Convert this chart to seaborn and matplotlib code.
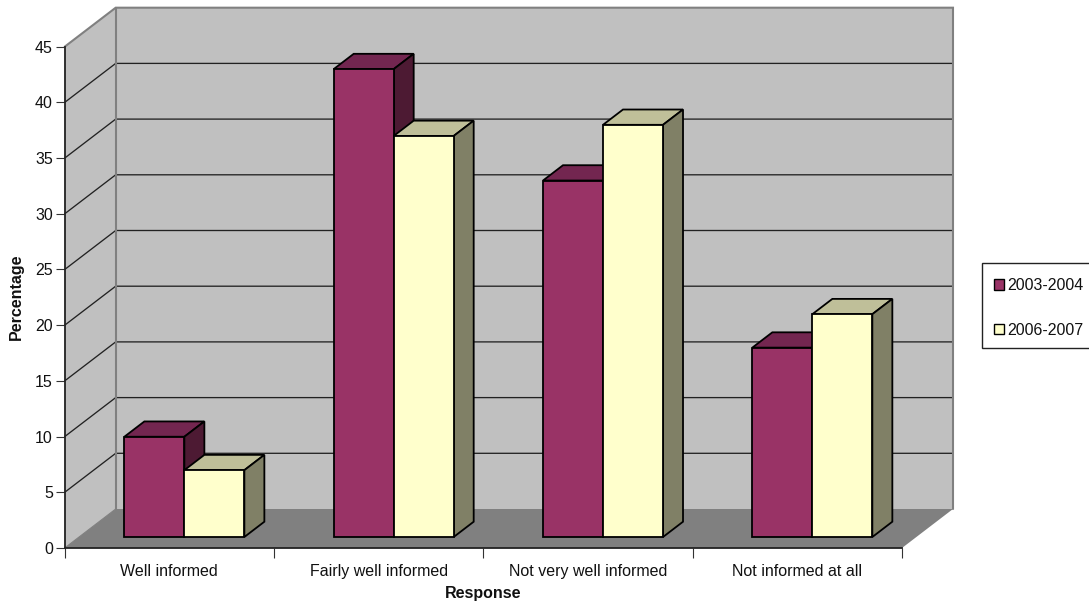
import matplotlib
matplotlib.use("Agg")
import matplotlib.pyplot as plt
from matplotlib.patches import Polygon, Patch, Rectangle
import pandas as pd
import seaborn as sns

# Survey results, percentage of respondents per answer and period
responses = ["Well informed", "Fairly well informed", "Not very well informed", "Not informed at all"]
periods = ["2003-2004", "2006-2007"]
values_2003_2004 = [9, 42, 32, 17]
values_2006_2007 = [6, 36, 37, 20]
y_ticks = list(range(0, 50, 5))

front_colors = ["#993366", "#FFFFCC"]
top_colors = ["#732650", "#BFBF99"]
side_colors = ["#4D1A33", "#808066"]

W, H = 1089, 604
sns.set_theme(style="white")
plt.rcParams["font.family"] = ["Liberation Sans", "DejaVu Sans"]
FS = 11.5

frame = pd.DataFrame({
    "Response": responses * 2,
    "Period": [periods[0]] * 4 + [periods[1]] * 4,
    "Percentage": values_2003_2004 + values_2006_2007,
})

fig = plt.figure(figsize=(W / 100, H / 100), dpi=100, facecolor="white")


def px_axes(left, right, bottom, top, **kw):
    """Axes placed by pixel edges, measured from the top-left corner."""
    return fig.add_axes([left / W, 1 - bottom / H, (right - left) / W, (bottom - top) / H], **kw)


# Front plane of the box: carries the ticks and axis labels
ax = px_axes(64.7, 902, 548, 46.7)
ax.set_xlim(-0.5, 3.5)
ax.set_ylim(0, 45)
unit_x = (902 - 64.7) / 4   # pixels per category
unit_y = (548 - 46.7) / 45  # pixels per percentage point

# Wall and floor receding from the front plane
depth_x, depth_y = 51 / unit_x, 39 / unit_y
wall_grey, floor_grey, edge_grey = "#C0C0C0", "#808080", "#808080"
x0, x1 = -0.5, 3.5
ax.add_patch(Polygon([(x0 + depth_x, depth_y), (x1 + depth_x, depth_y),
                      (x1 + depth_x, 45 + depth_y), (x0 + depth_x, 45 + depth_y)],
                     fc=wall_grey, ec="none", zorder=1, clip_on=False))
ax.add_patch(Polygon([(x0, 0), (x0 + depth_x, depth_y), (x0 + depth_x, 45 + depth_y), (x0, 45)],
                     fc=wall_grey, ec="none", zorder=1, clip_on=False))
ax.add_patch(Polygon([(x0, 0), (x1, 0), (x1 + depth_x, depth_y), (x0 + depth_x, depth_y)],
                     fc=floor_grey, ec="none", zorder=1, clip_on=False))
for t in y_ticks[1:-1]:
    ax.plot([x0, x0 + depth_x, x1 + depth_x], [t, t + depth_y, t + depth_y],
            color="#222222", lw=0.95, zorder=1.5, clip_on=False)
ax.plot([x0, x0 + depth_x, x1 + depth_x, x1 + depth_x],
        [45, 45 + depth_y, 45 + depth_y, depth_y],
        color=edge_grey, lw=1.5, zorder=1.6, clip_on=False, solid_joinstyle="miter")
ax.plot([x0 + depth_x, x0 + depth_x], [depth_y, 45 + depth_y],
        color=edge_grey, lw=1.5, zorder=1.6, clip_on=False)
ax.plot([x0, x0 + depth_x], [0, depth_y], color=edge_grey, lw=0.8, zorder=1.6, clip_on=False)

ax.set_xticks([-0.5, 0.5, 1.5, 2.5, 3.5])
ax.set_xticklabels([])
ax.set_xticks([0, 1, 2, 3], minor=True)
ax.set_xticklabels(responses, minor=True, fontsize=FS, color="#111111")
ax.tick_params(axis="x", which="major", length=7, width=0.8, color="#333333", bottom=True, pad=0)
ax.tick_params(axis="x", which="minor", length=0, pad=11.2)
ax.set_yticks(y_ticks)
ax.tick_params(axis="y", length=6.5, width=0.8, color="#333333", labelsize=FS, labelcolor="#111111", left=True, pad=2)
for name in ["top", "right"]:
    ax.spines[name].set_visible(False)
for name in ["left", "bottom"]:
    ax.spines[name].set_color("#222222")
    ax.spines[name].set_linewidth(1.3)
    ax.spines[name].set_zorder(1.8)
ax.patch.set_visible(False)
ax.set_zorder(1)
fig.text(483 / W, 1 - 593.5 / H, "Response", ha="center", va="center", fontsize=FS, fontweight="bold", color="#111111")
fig.text(16 / W, 1 - 296.5 / H, "Percentage", ha="center", va="center", rotation=90,
         fontsize=FS, fontweight="bold", color="#111111")

# Bars stand part-way into the box, so their plane is shifted from the front one
shift_x, shift_y = 15, 11
bar_ax = px_axes(64.7 + shift_x, 902 + shift_x, 548 - shift_y, 46.7 - shift_y)
bar_ax.set_zorder(2)
bar_ax.patch.set_visible(False)
sns.barplot(data=frame, x="Response", y="Percentage", hue="Period", order=responses, hue_order=periods,
            palette=front_colors, width=120 / unit_x, gap=0, saturation=1, errorbar=None,
            edgecolor="black", linewidth=1.3, legend=False, ax=bar_ax)
bar_ax.set_xlim(-0.5, 3.5)
bar_ax.set_ylim(0, 45)
bar_ax.axis("off")

# Extrude each bar backwards: side and top faces come from the bar's own rectangle
bar_dx, bar_dy = 20 / unit_x, 15.3 / unit_y
for s, container in enumerate(bar_ax.containers):
    base = 3 + 2 * s
    for rect in container:
        left, right = rect.get_x(), rect.get_x() + rect.get_width()
        h = rect.get_height()
        rect.set_zorder(base + 1)
        bar_ax.add_patch(Polygon([(left, h), (right, h), (right + bar_dx, h + bar_dy), (left + bar_dx, h + bar_dy)],
                                 fc=top_colors[s], ec="black", lw=1.3, zorder=base,
                                 clip_on=False, joinstyle="miter"))
        bar_ax.add_patch(Polygon([(right, 0), (right + bar_dx, bar_dy), (right + bar_dx, h + bar_dy), (right, h)],
                                 fc=side_colors[s], ec="black", lw=1.3, zorder=base,
                                 clip_on=False, joinstyle="miter"))
        rect.set_clip_on(False)

# Legend box runs off the right-hand edge of the figure
fig.add_artist(Rectangle((981.7 / W, 1 - 348 / H), 120 / W, 85.3 / H, transform=fig.transFigure,
                         fc="white", ec="#222222", lw=1.0))
handles = [Patch(facecolor=c, edgecolor="black", lw=1.0, label=p) for c, p in zip(front_colors, periods)]
legend = fig.legend(handles=handles, loc="upper left", bbox_to_anchor=(993.5 / W, 1 - 278 / H),
                    bbox_transform=fig.transFigure, borderaxespad=0, fontsize=FS, frameon=False,
                    borderpad=0, handlelength=0.66, handleheight=0.66, handletextpad=0.2, labelspacing=1.85,
                    labelcolor="#111111")

fig.savefig("out.png", dpi=100)
